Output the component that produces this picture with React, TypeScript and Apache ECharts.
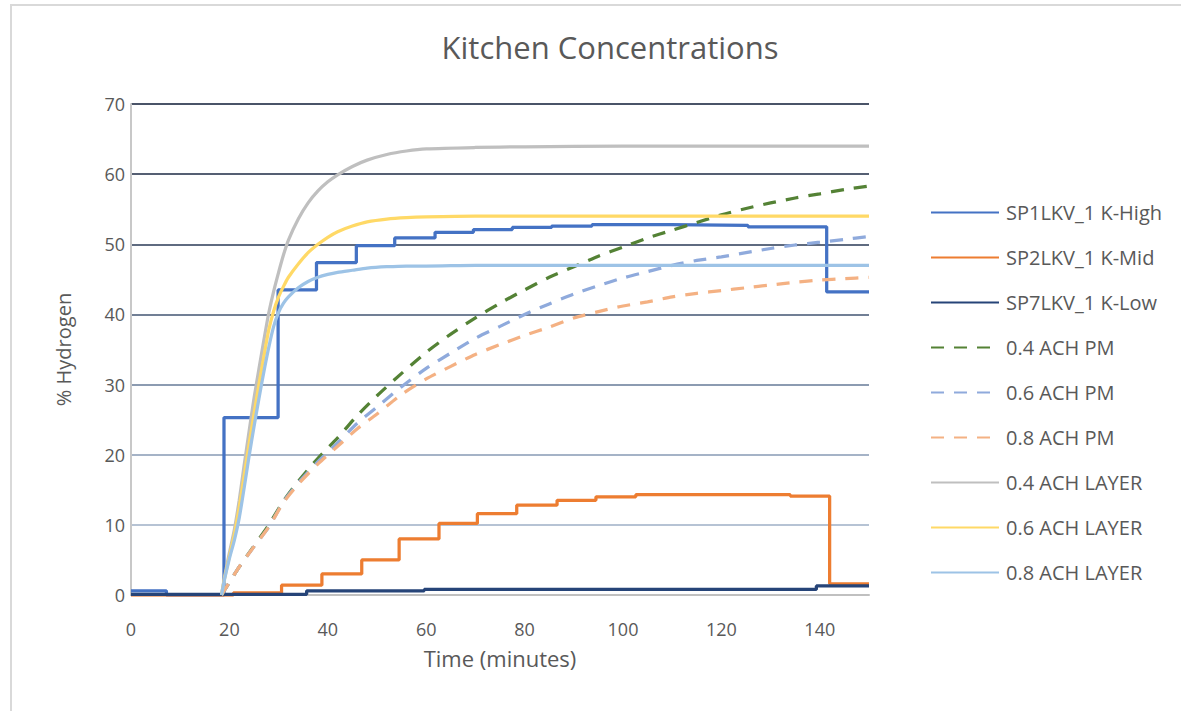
import React, { useEffect, useRef } from "react";
import * as echarts from "echarts";

const title = "Kitchen Concentrations";
const xAxisName = "Time (minutes)";
const yAxisName = "% Hydrogen";
const xTicks = [0, 20, 40, 60, 80, 100, 120, 140];
const yTicks = [0, 10, 20, 30, 40, 50, 60, 70];

// Step series: [time, value that starts at that time]
const kHigh: [number, number][] = [
  [0, 0.6], [7.2, 0], [18.9, 25.3], [29.9, 43.5], [37.7, 47.4], [45.8, 49.8],
  [53.6, 50.9], [61.8, 51.7], [69.6, 52.1], [77.5, 52.4], [85.5, 52.6],
  [93.7, 52.8], [109.6, 52.7], [125.4, 52.5], [141.4, 43.2], [150, 43.2],
];
const kMid: [number, number][] = [
  [0, 0], [20.8, 0.3], [30.6, 1.4], [38.8, 3.0], [46.9, 5.0], [54.5, 8.0],
  [62.6, 10.2], [70.4, 11.6], [78.4, 12.8], [86.6, 13.5], [94.5, 14.0],
  [102.6, 14.3], [134.0, 14.1], [142.0, 1.6], [150, 1.6],
];
const kLow: [number, number][] = [
  [0, 0.1], [35.7, 0.6], [59.6, 0.8], [139.3, 1.3], [150, 1.3],
];

// Model curves
const pmTime = [18.4, 22, 25, 28, 31, 34, 38, 42, 46, 50, 55, 60, 65, 70, 75, 80, 85, 90, 95, 100, 105, 110, 115, 120, 125, 130, 135, 140, 145, 150];
const pm04 = [0, 4.0, 7.0, 10.0, 13.4, 16.2, 19.5, 22.4, 25.6, 28.4, 31.6, 34.6, 37.2, 39.5, 41.6, 43.5, 45.3, 46.8, 48.3, 49.6, 50.9, 52.0, 53.1, 54.2, 55.1, 55.9, 56.6, 57.2, 57.8, 58.3];
const pm06 = [0, 4.0, 6.9, 9.7, 13.3, 16.0, 19.0, 21.7, 24.5, 26.8, 29.7, 32.3, 34.5, 36.6, 38.3, 40.0, 41.5, 42.9, 44.1, 45.2, 46.1, 47.0, 47.7, 48.2, 48.8, 49.4, 49.9, 50.3, 50.7, 51.1];
const pm08 = [0, 4.0, 6.9, 9.7, 13.2, 15.8, 18.7, 21.2, 23.7, 25.8, 28.6, 30.8, 32.6, 34.3, 35.7, 37.0, 38.2, 39.5, 40.4, 41.2, 41.8, 42.5, 43.0, 43.4, 43.8, 44.2, 44.6, 44.9, 45.1, 45.3];

const layerTime = [18.4, 19, 20, 21, 22, 23, 24, 25, 26, 27, 28, 29, 30, 31, 32, 34, 36, 38, 40, 42, 45, 48, 52, 56, 60, 70, 80, 100, 120, 150];
const layer04 = [0, 2.5, 6, 9.3, 13.5, 18.5, 23.3, 28, 32.2, 36.3, 40.2, 43.3, 46, 48.5, 50.6, 53.6, 55.9, 57.6, 58.9, 59.9, 61.1, 62.0, 62.8, 63.3, 63.6, 63.8, 63.9, 64.0, 64.0, 64.0];
const layer06 = [0, 2.3, 5.5, 8.6, 12.5, 17, 21.5, 25.8, 30, 34, 37.8, 40.5, 42.5, 44, 45.3, 47.2, 48.8, 50.0, 51.0, 51.8, 52.6, 53.2, 53.6, 53.8, 53.9, 54.0, 54.0, 54.0, 54.0, 54.0];
const layer08 = [0, 2.2, 5.2, 7.8, 11, 15.3, 19.8, 24, 28, 31.8, 35.3, 38.3, 40.3, 41.6, 42.5, 43.8, 44.7, 45.3, 45.7, 46.0, 46.3, 46.6, 46.8, 46.9, 46.9, 47.0, 47.0, 47.0, 47.0, 47.0];

const zip = (xs: number[], ys: number[]) => xs.map((x, i) => [x, ys[i]]);

const FONT = "'Open Sans', sans-serif";
const TXT = "#595959";

export default function App() {
  const ref = useRef<HTMLDivElement>(null);
  useEffect(() => {
    if (!ref.current) return;
    const chart = echarts.init(ref.current, undefined, { renderer: "svg" });
    const stepSeries = (name: string, data: any, color: string) => ({
      name, type: "line", data, step: "end", symbol: "none",
      lineStyle: { color, width: 3.25 }, itemStyle: { color },
    });
    const curve = (name: string, data: any, color: string, dashed: boolean) => ({
      name, type: "line", data, smooth: 0.25, symbol: "none",
      lineStyle: { color, width: 3.25, type: dashed ? [13, 10] : "solid", cap: "butt" },
      itemStyle: { color },
    });
    chart.setOption({
      animation: false,
      backgroundColor: "#ffffff",
      textStyle: { fontFamily: FONT },
      title: {
        text: title, left: 605, top: 26, textAlign: "center",
        textStyle: { fontFamily: FONT, fontSize: 31, fontWeight: "normal", color: TXT },
      },
      graphic: [
        { type: "rect", shape: { x: 11, y: 5, width: 1400, height: 900 },
          style: { fill: "none", stroke: "#d9d9d9", lineWidth: 2 }, silent: true },
      ],
      grid: { left: 131, top: 104, width: 738, height: 491, containLabel: false },
      legend: {
        orient: "vertical", left: 930, top: 202, padding: 0,
        itemWidth: 68, itemHeight: 14, itemGap: 24,
        itemStyle: { opacity: 0 },
        textStyle: { fontFamily: FONT, fontSize: 20, lineHeight: 21, color: TXT, padding: [0, 0, 0, 2] },
        data: ["SP1LKV_1 K-High", "SP2LKV_1 K-Mid", "SP7LKV_1 K-Low", "0.4 ACH PM", "0.6 ACH PM", "0.8 ACH PM", "0.4 ACH LAYER", "0.6 ACH LAYER", "0.8 ACH LAYER"],
      },
      xAxis: {
        type: "value", min: xTicks[0], max: 150, interval: xTicks[1] - xTicks[0],
        name: xAxisName, nameLocation: "middle", nameGap: 52,
        nameTextStyle: { fontFamily: FONT, fontSize: 22, color: TXT },
        axisLine: { show: true, lineStyle: { color: "#c0c0c0", width: 2 } },
        axisTick: { show: false },
        splitLine: { show: false },
        axisLabel: { showMaxLabel: false, margin: 25, fontFamily: FONT, fontSize: 18, color: TXT },
      },
      yAxis: {
        type: "value", min: yTicks[0], max: yTicks[yTicks.length - 1], interval: yTicks[1] - yTicks[0],
        name: yAxisName, nameLocation: "middle", nameGap: 58, nameRotate: 90,
        nameTextStyle: { fontFamily: FONT, fontSize: 20, color: TXT },
        axisLine: { show: true, lineStyle: { color: "#c8c8c8", width: 2 } },
        axisTick: { show: false },
        splitLine: {
          show: true, showMinLine: true, showMaxLine: true,
          lineStyle: { width: 2, color: ["#c0c0c0", "#b6c3d4", "#a5b3c7", "#8c9bb1", "#717f95", "#5f6b80", "#555f73", "#4a5468"] },
        },
        axisLabel: { margin: 6, fontFamily: FONT, fontSize: 18, color: TXT },
      },
      series: [
        stepSeries("SP1LKV_1 K-High", kHigh, "#4472C4"),
        stepSeries("SP2LKV_1 K-Mid", kMid, "#ED7D31"),
        stepSeries("SP7LKV_1 K-Low", kLow, "#264478"),
        curve("0.4 ACH PM", zip(pmTime, pm04), "#548235", true),
        curve("0.6 ACH PM", zip(pmTime, pm06), "#8FAADC", true),
        curve("0.8 ACH PM", zip(pmTime, pm08), "#F4B183", true),
        curve("0.4 ACH LAYER", zip(layerTime, layer04), "#BFBFBF", false),
        curve("0.6 ACH LAYER", zip(layerTime, layer06), "#FFD966", false),
        curve("0.8 ACH LAYER", zip(layerTime, layer08), "#9DC3E6", false),
      ],
    });
    return () => chart.dispose();
  }, []);
  return (
    <div
      ref={ref}
      style={{ position: "fixed", left: 0, top: 0, width: 1181, height: 711, background: "#fff" }}
    />
  );
}
